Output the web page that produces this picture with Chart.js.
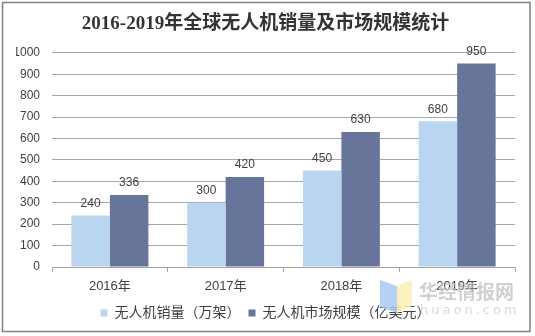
<!DOCTYPE html>
<html>
<head>
<meta charset="utf-8">
<script src="https://cdn.jsdelivr.net/npm/chart.js@4/dist/chart.umd.min.js"></script>
<style>
  html, body { margin: 0; padding: 0; background: #fff; }
  #wrap { width: 535px; height: 336px; position: relative; }
</style>
</head>
<body>
<div id="wrap"><canvas id="chart" width="535" height="336"></canvas></div>
<script>
// Data
const years = ['2016年', '2017年', '2018年', '2019年'];
const droneSales = [240, 300, 450, 680];    // 无人机销量（万架）
const marketSize = [336, 420, 630, 950];    // 无人机市场规模（亿美元）
const salesLabel = '无人机销量（万架）';
const marketLabel = '无人机市场规模（亿美元）';
const titleText = '2016-2019年全球无人机销量及市场规模统计';

const textColor = '#404040';
const gridColor = '#a6a6a6';
const fontFamily = "'Liberation Sans', 'Noto Sans CJK SC', sans-serif";

// Value labels above each bar
const barLabels = {
  id: 'barLabels',
  afterDatasetsDraw(chart) {
    const ctx = chart.ctx;
    ctx.save();
    ctx.font = '12px ' + fontFamily;
    ctx.fillStyle = textColor;
    ctx.textAlign = 'center';
    ctx.textBaseline = 'middle';
    chart.data.datasets.forEach((ds, i) => {
      chart.getDatasetMeta(i).data.forEach((bar, j) => {
        ctx.fillText(ds.data[j], bar.x, bar.y - 12);
      });
    });
    ctx.restore();
  }
};

// Outer frame and the watermark in the corner
const frame = {
  id: 'frame',
  afterDraw(chart) {
    const ctx = chart.ctx;
    ctx.save();
    ctx.strokeStyle = '#808080';
    ctx.lineWidth = 1.5;
    ctx.strokeRect(2.5, 2.5, 527.5, 329);

    // logo (open book)
    ctx.globalAlpha = 0.85;
    ctx.fillStyle = '#a9c9f2';
    ctx.beginPath();
    ctx.moveTo(380, 280); ctx.lineTo(397, 286); ctx.lineTo(397, 313); ctx.lineTo(380, 307);
    ctx.closePath(); ctx.fill();
    ctx.fillStyle = '#fcefb4';
    ctx.beginPath();
    ctx.moveTo(397, 286); ctx.lineTo(412, 280); ctx.lineTo(412, 306); ctx.lineTo(397, 313);
    ctx.closePath(); ctx.fill();

    ctx.globalAlpha = 0.8;
    ctx.fillStyle = '#c4c4c4';
    ctx.textAlign = 'left';
    ctx.textBaseline = 'middle';
    ctx.font = 'bold 19px "Noto Sans CJK SC", sans-serif';
    ctx.fillText('华经情报网', 419, 292);
    ctx.fillStyle = '#d0d0d0';
    ctx.font = '13px "DejaVu Sans", sans-serif';
    if ('letterSpacing' in ctx) ctx.letterSpacing = '3px';
    ctx.fillText('huaon.com', 420, 311);
    ctx.restore();
  }
};

new Chart(document.getElementById('chart'), {
  type: 'bar',
  data: {
    labels: years,
    datasets: [
      {
        label: salesLabel,
        data: droneSales,
        backgroundColor: '#bad5f0',
        categoryPercentage: 0.665,
        barPercentage: 1
      },
      {
        label: marketLabel,
        data: marketSize,
        backgroundColor: '#67759b',
        categoryPercentage: 0.665,
        barPercentage: 1
      }
    ]
  },
  options: {
    responsive: false,
    animation: false,
    layout: { padding: { left: 16, right: 20, top: 0, bottom: 6 } },
    plugins: {
      title: {
        display: true,
        text: titleText,
        color: '#333333',
        font: { family: "'Liberation Serif', 'Noto Sans CJK SC', serif", size: 19, weight: 'bold', lineHeight: 1.2 },
        padding: { top: 13, bottom: 17 }
      },
      legend: {
        position: 'bottom',
        labels: {
          color: textColor,
          font: { family: fontFamily, size: 14 },
          boxWidth: 7,
          boxHeight: 7,
          padding: 8
        }
      },
      tooltip: { enabled: false }
    },
    scales: {
      x: {
        grid: {
          drawOnChartArea: false,
          color: gridColor,
          tickLength: 5,
          offset: true
        },
        border: { color: gridColor },
        ticks: {
          color: textColor,
          font: { family: fontFamily, size: 13 },
          padding: 7
        },
        afterFit(scale) { scale.height = 31; }
      },
      y: {
        min: 0,
        max: 1000,
        ticks: {
          stepSize: 100,
          color: textColor,
          font: { family: fontFamily, size: 12 },
          padding: 12,
          callback: (v) => String(v)
        },
        grid: { color: gridColor, drawTicks: false },
        border: { display: false },
        afterFit(scale) { scale.width = 36; }
      }
    }
  },
  plugins: [barLabels, frame]
});
</script>
</body>
</html>
